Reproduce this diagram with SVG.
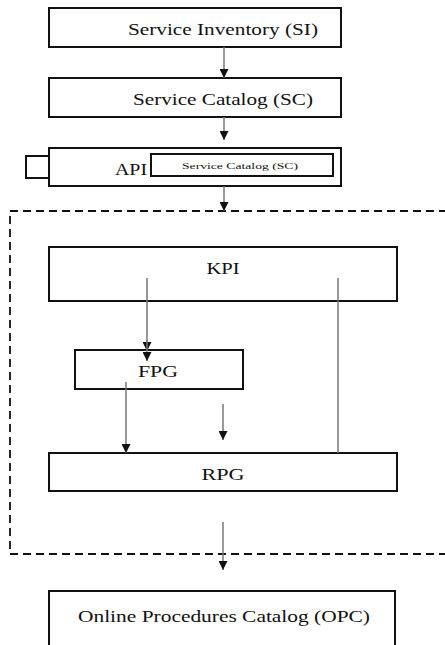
<svg xmlns="http://www.w3.org/2000/svg" width="445" height="645" viewBox="0 0 445 645">
<style>
.box{fill:#fff;stroke:#111;stroke-width:2}
.t{font-family:"Liberation Serif","Times New Roman",serif;font-size:16px;fill:#111;text-anchor:middle}
.s{font-size:9px}
.ln{stroke:#777;stroke-width:1.5;fill:none}
.dash{fill:none;stroke:#111;stroke-width:1.8;stroke-dasharray:8,5}
</style>
<defs>
<marker id="ah" viewBox="0 0 10 10" refX="10" refY="5" markerWidth="9" markerHeight="9" markerUnits="userSpaceOnUse" orient="auto">
<path d="M0,0 L10,5 L0,10 z" fill="#111"/>
</marker>
</defs>
<rect class="dash" x="10" y="211" width="450" height="343"/>
<g id="si"><rect class="box" x="49" y="8" width="292" height="39"/><text class="t" x="223" y="35" textLength="190" lengthAdjust="spacingAndGlyphs">Service Inventory (SI)</text></g>
<g id="sc"><rect class="box" x="49" y="78" width="292" height="39"/><text class="t" x="223" y="105" textLength="180" lengthAdjust="spacingAndGlyphs">Service Catalog (SC)</text></g>
<g id="api"><rect class="box" x="26" y="156" width="23" height="22"/><rect class="box" x="49" y="148" width="292" height="38"/><text class="t" x="131" y="175" textLength="32" lengthAdjust="spacingAndGlyphs">API</text><rect class="box" x="151" y="154" width="182" height="22"/><text class="t s" x="240" y="169" textLength="116" lengthAdjust="spacingAndGlyphs">Service Catalog (SC)</text></g>
<g id="kpi"><rect class="box" x="49" y="247" width="348" height="54"/><text class="t" x="223" y="274" textLength="33" lengthAdjust="spacingAndGlyphs">KPI</text></g>
<g id="fpg"><rect class="box" x="75" y="350" width="168" height="39"/><text class="t" x="158" y="377" textLength="40" lengthAdjust="spacingAndGlyphs">FPG</text></g>
<g id="rpg"><rect class="box" x="49" y="453" width="348" height="38"/><text class="t" x="223" y="480" textLength="43" lengthAdjust="spacingAndGlyphs">RPG</text></g>
<g id="opc"><rect class="box" x="49" y="591" width="346" height="70"/><text class="t" x="224" y="622" textLength="292" lengthAdjust="spacingAndGlyphs">Online Procedures Catalog (OPC)</text></g>
<g id="connectors">
<line class="ln" x1="224" y1="47" x2="224" y2="78" marker-end="url(#ah)"/>
<line class="ln" x1="224" y1="117" x2="224" y2="140" marker-end="url(#ah)"/>
<line class="ln" x1="224" y1="186" x2="224" y2="211" marker-end="url(#ah)"/>
<line class="ln" x1="147" y1="278" x2="147" y2="351" marker-end="url(#ah)"/>
<line class="ln" x1="147" y1="340" x2="147" y2="361" marker-end="url(#ah)"/>
<line class="ln" x1="126" y1="382" x2="126" y2="453" marker-end="url(#ah)"/>
<line class="ln" x1="223" y1="404" x2="223" y2="440" marker-end="url(#ah)"/>
<line class="ln" x1="338" y1="278" x2="338" y2="453"/>
<line class="ln" x1="223" y1="522" x2="223" y2="570" marker-end="url(#ah)"/>
</g>
</svg>
